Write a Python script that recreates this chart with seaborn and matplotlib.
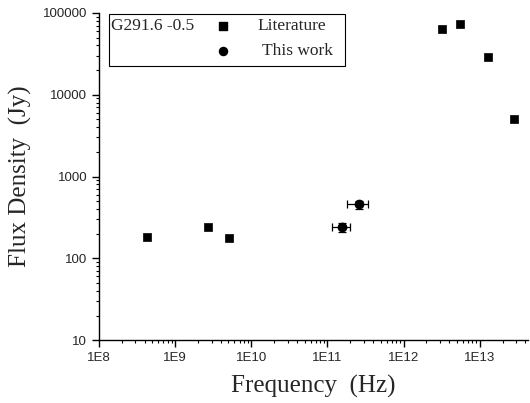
import numpy as np
import pandas as pd
import matplotlib
matplotlib.use("Agg")
import matplotlib.pyplot as plt
from matplotlib.patches import Rectangle
from matplotlib.ticker import FuncFormatter, LogLocator, NullFormatter
import seaborn as sns

# Literature data
lit_freq = [4.2e8, 2.7e9, 5.1e9, 3.2e12, 5.5e12, 1.3e13, 2.8e13]
lit_flux = [180, 240, 178, 64000, 73500, 28500, 5100]

# This work
tw_freq = [1.57e11, 2.56e11]
tw_flux = [239, 456]
tw_freq_lo = [1.16e11, 1.82e11]
tw_freq_hi = [2.0e11, 3.36e11]
tw_flux_err = [30, 50]

lit = pd.DataFrame({"freq": lit_freq, "flux": lit_flux})

sns.set_style("ticks")
plt.rcParams["font.family"] = ["Liberation Sans", "DejaVu Sans"]

fig = plt.figure(figsize=(5.3, 4.03), dpi=100)
ax = fig.add_axes([0.187, 0.156, 0.809, 0.812])

sns.scatterplot(x="freq", y="flux", data=lit, marker="s", color="black",
                s=30, edgecolor="black", linewidth=0.5, ax=ax, zorder=3)

xerr = [np.array(tw_freq) - np.array(tw_freq_lo), np.array(tw_freq_hi) - np.array(tw_freq)]
ax.errorbar(tw_freq, tw_flux, xerr=xerr, yerr=tw_flux_err, fmt="o", color="black",
            ms=6, elinewidth=0.9, capsize=3, capthick=0.9, zorder=3)

ax.set_xscale("log")
ax.set_yscale("log")
ax.set_xlim(1e8, 4.3e13)
ax.set_ylim(10, 1e5)

ax.xaxis.set_major_locator(LogLocator(base=10, numticks=10))
ax.xaxis.set_minor_locator(LogLocator(base=10, subs=np.arange(2, 10), numticks=20))
ax.xaxis.set_major_formatter(FuncFormatter(lambda v, p: "1E%d" % round(np.log10(v))))
ax.xaxis.set_minor_formatter(NullFormatter())
ax.yaxis.set_major_locator(LogLocator(base=10, numticks=10))
ax.yaxis.set_minor_locator(LogLocator(base=10, subs=np.arange(2, 10), numticks=20))
ax.yaxis.set_major_formatter(FuncFormatter(lambda v, p: "%d" % round(v)))
ax.yaxis.set_minor_formatter(NullFormatter())

ax.tick_params(which="major", direction="out", length=5, width=1, labelsize=9.5, color="black")
ax.tick_params(which="minor", direction="out", length=2.5, width=0.8, color="black")
for s in ["left", "bottom"]:
    ax.spines[s].set_color("black")
    ax.spines[s].set_linewidth(1)
sns.despine(ax=ax)

ax.set_xlabel("Frequency  (Hz)", family="Liberation Serif", fontsize=18, labelpad=8)
ax.set_ylabel("Flux Density  (Jy)", family="Liberation Serif", fontsize=18, labelpad=8)

# legend box
ax.add_patch(Rectangle((0.022, 0.837), 0.552, 0.16, transform=ax.transAxes,
                       facecolor="white", edgecolor="black", lw=0.8, zorder=4, clip_on=False))
ax.text(0.028, 0.96, "G291.6 -0.5", transform=ax.transAxes, family="Liberation Serif",
        fontsize=12.5, va="center", zorder=5)
ax.scatter([0.29], [0.96], marker="s", s=30, color="black", transform=ax.transAxes, zorder=5)
ax.scatter([0.29], [0.885], marker="o", s=34, color="black", transform=ax.transAxes, zorder=5)
ax.text(0.37, 0.96, "Literature", transform=ax.transAxes, family="Liberation Serif",
        fontsize=12.5, va="center", zorder=5)
ax.text(0.38, 0.885, "This work", transform=ax.transAxes, family="Liberation Serif",
        fontsize=12.5, va="center", zorder=5)

fig.savefig("out.png", dpi=100)
